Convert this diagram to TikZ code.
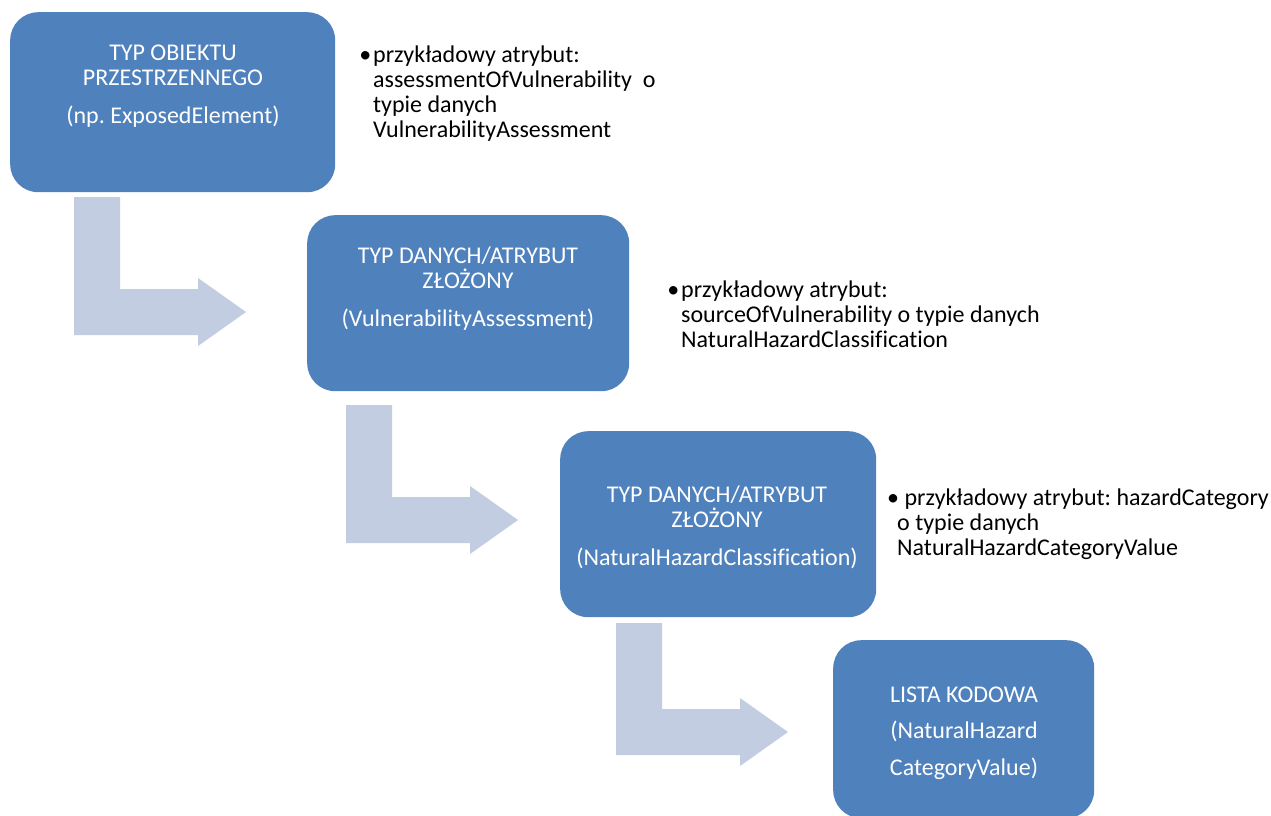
\documentclass[tikz,border=0pt]{standalone}
\usepackage{fontspec}
\setmainfont{Carlito}[Ligatures={NoCommon}]
\frenchspacing
\definecolor{boxblue}{RGB}{79,129,189}
\definecolor{arrowblue}{RGB}{195,205,226}
\tikzset{
  box/.style={fill=boxblue, draw=none, rounded corners=28pt, inner sep=0pt, anchor=north west},
  boxtext/.style={text=white, font=\fontsize{24}{25.5}\selectfont, align=center, inner sep=0pt, anchor=north},
  bullettext/.style={text=black, font=\fontsize{24}{25}\selectfont, align=left, inner sep=0pt, anchor=north west},
  flowarrow/.style={fill=arrowblue, draw=none}
}
\newcommand\bentarrow[3]{%
  \fill[flowarrow] (#1,#2) -- ++(46,0) -- ++(0,#3) -- ++(78,0) -- ++(0,-11)
    -- ++(48,34) -- ++(-48,34) -- ++(0,-11) -- ++(-124,0) -- cycle;}
\begin{document}
\begin{tikzpicture}[x=1pt,y=-1pt]
\useasboundingbox (0,0) rectangle (1271,815);
\fill[white] (0,0) rectangle (1271,815);

% bent arrows
\bentarrow{74}{197}{92}
\bentarrow{346}{405}{92}
\bentarrow{616}{623}{86}

% boxes
\node[box, minimum width=325pt, minimum height=180pt] (b1) at (10,12) {};
\node[box, minimum width=322pt, minimum height=176pt] (b2) at (307,215) {};
\node[box, minimum width=316pt, minimum height=186pt] (b3) at (560,431) {};
\node[box, minimum width=261pt, minimum height=178pt] (b4) at (833,640) {};

% box texts
\node[boxtext] (t1) at (173,44.4) {TYP OBIEKTU\\PRZESTRZENNEGO\\[12.5pt](np. ExposedElement)};
\node[boxtext] (t2) at (468,246.4) {TYP DANYCH/ATRYBUT\\ZŁOŻONY\\[12.5pt](VulnerabilityAssessment)};
\node[boxtext] (t3) at (717,485.4) {TYP DANYCH/ATRYBUT\\ZŁOŻONY\\[12.5pt](NaturalHazardClassification)};
\node[boxtext] (t4) at (964,686.4) {LISTA KODOWA\\[11pt](NaturalHazard\\[11pt]CategoryValue)};

% bullet texts
\node[bullettext] (n1) at (373,45.8) {\llap{•\hspace{2pt}}przykładowy atrybut:\\assessmentOfVulnerability\ \ o\\typie danych\\VulnerabilityAssessment};
\node[bullettext] (n2) at (681,280.8) {\llap{•\hspace{2pt}}przykładowy atrybut:\\sourceOfVulnerability o typie danych\\NaturalHazardClassification};
\node[bullettext] (n3) at (887,488.8) {•\ przykładowy atrybut: hazardCategory\\\hspace*{10pt}o typie danych\\\hspace*{10pt}NaturalHazardCategoryValue};
\end{tikzpicture}
\end{document}
